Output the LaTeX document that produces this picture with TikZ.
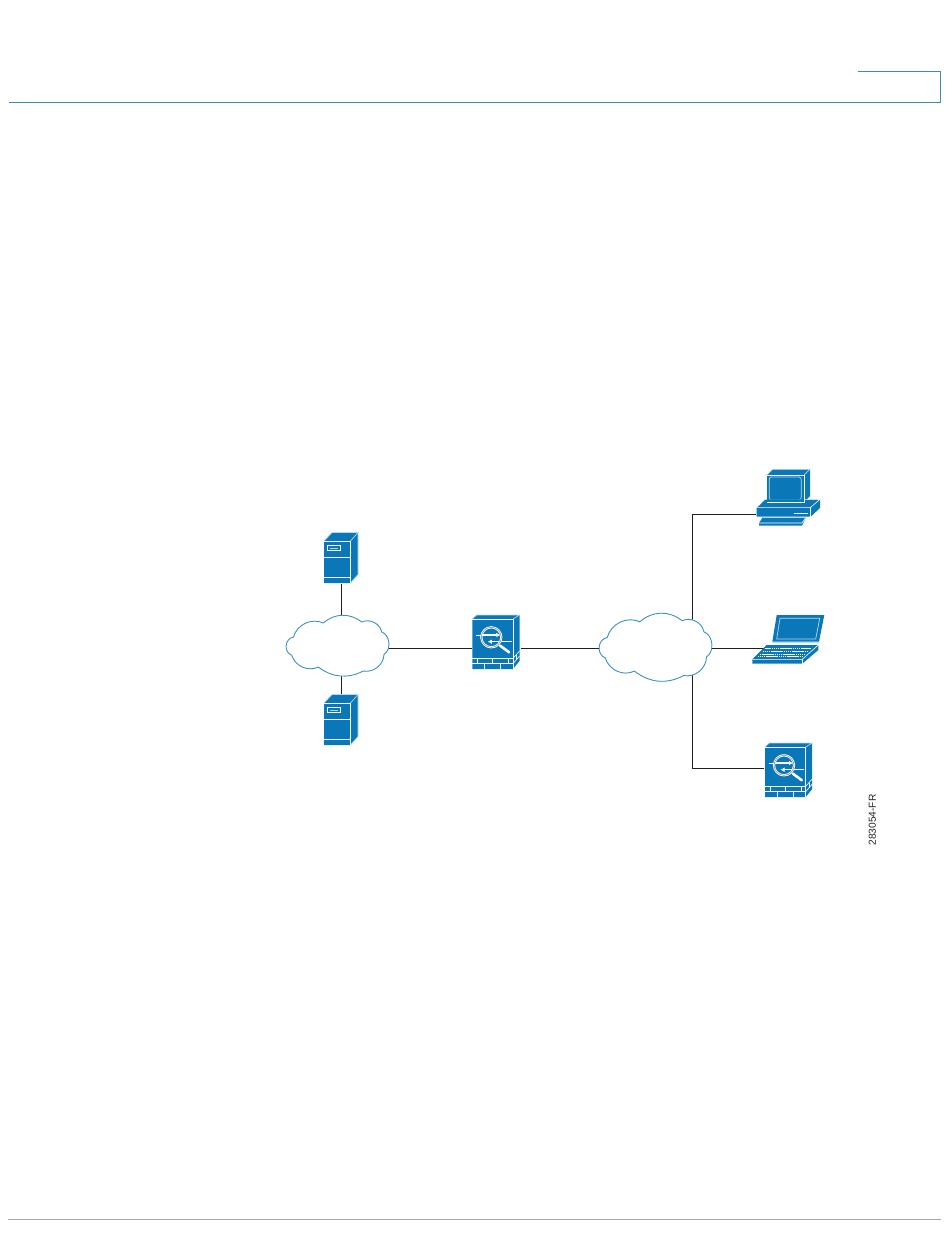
\documentclass[tikz,border=0pt]{standalone}
\usepackage{fontspec}
\setmainfont{Liberation Sans}
\usetikzlibrary{calc,positioning,arrows.meta}

\definecolor{iconblue}{HTML}{0A78B8}
\definecolor{iconpale}{HTML}{B5D8EC}
\definecolor{cloudline}{HTML}{3C90C4}
\definecolor{ruleteal}{HTML}{3F8FA8}
\definecolor{rulegrey}{HTML}{A8A8A8}

\tikzset{
    port/.style={inner sep=0pt, outer sep=0pt, minimum width=#1},
    wire/.style={line width=0.9pt, color=black!88},
    edge/.style={draw=white, line width=0.6pt},
    paleedge/.style={draw=iconpale, line width=0.7pt},
    server/.pic={
        \fill[iconblue] (0,0)--(8,-8.5)--(34,-8.5)--(34,33.5)--(26.5,42)--(0,42)-- cycle;
        \draw[paleedge] (0,0)--(8,-8.5)--(34,-8.5)--(26.5,0);
        \draw[paleedge] (34,-8.5)--(34,33.5)--(26.5,42);
        \draw[edge] (0,0)--(26.5,0)--(26.5,42);
        \draw[edge] (0,16.3)--(26.5,16.3);
        \draw[edge] (0,36.3)--(26.5,36.3);
        \draw[edge] (3.3,4.7) rectangle (16.7,9.7);
        \draw[paleedge, line width=0.5pt] (6,7.2)--(14,7.2);
    },
    firewall/.pic={
        \fill[iconblue] (0,0)--(4.3,-4)--(47.2,-4)--(47.2,42)--(40.7,50)--(0,50)-- cycle;
        \draw[paleedge] (0,0)--(4.3,-4)--(47.2,-4)--(40.7,0);
        \draw[edge] (0,0)--(40.7,0)--(40.7,50);
        \draw[edge] (40.7,39.3)--(47.2,32);
        \draw[edge] (0,39.3)--(40.7,39.3);
        \draw[edge] (0,44.7)--(40.7,44.7);
        \draw[edge] (40.7,44.7)--(47.2,37);
        \foreach \xb in {5.3,20,36}
            \draw[edge] (\xb,39.3)--(\xb,44.7);
        \foreach \xb in {12,28}
            \draw[edge] (\xb,44.7)--(\xb,50);
        \draw[edge] (44,36)--(44,41);
        \draw[edge] (3.7,16)--(11,16);
        \draw[edge] (31,22.7)--(39.4,22.7);
        \draw[white, line width=1.5pt, -{Latex[length=4pt,width=4.6pt]}] (11,16)--(28,16);
        \draw[white, line width=1.5pt, -{Latex[length=4pt,width=4.6pt]}] (31,22.7)--(15.5,22.7);
        \draw[white, line width=2.2pt] (19,18.3) circle (10);
        \draw[black!50, line width=0.5pt] (19,18.3) circle (10);
        \draw[white, line width=2.6pt, line cap=round] (27.8,26.6)--(36.8,33.3);
    },
    desktop/.pic={
        % monitor
        \fill[iconblue] (0,0)--(6,-5.7)--(43.3,-5.7)--(43.3,21)--(37.3,27)--(0,27)-- cycle;
        \draw[paleedge] (0,0)--(6,-5.7)--(43.3,-5.7)--(37.3,0);
        \draw[edge] (0,0)--(37.3,0)--(37.3,27)--(0,27)-- cycle;
        \draw[paleedge, rounded corners=2.5pt] (2.5,2) rectangle (34.5,25);
        % base
        \fill[iconblue] (-10,32.3)--(-1.7,24.3)--(53.3,24.3)--(53.3,33)--(44,41.7)--(-10,41.7)-- cycle;
        \draw[edge] (0,27)--(37.3,27)--(37.3,24.3);
        \draw[edge] (-10,32.3)--(-1.7,24.3)--(0,24.3);
        \draw[edge] (37.3,24.3)--(53.3,24.3)--(44,32.3)--(-10,32.3);
        \draw[edge] (44,32.3)--(44,41.7);
        \draw[edge] (27.3,38)--(41.3,38);
        % keyboard
        \fill[iconblue] (-7.7,48)--(-4,42.3)--(39.3,42.3)--(35.3,50.7)--(-7.7,50.7)-- cycle;
        \draw[edge] (-7.7,48)--(35.3,48)--(39.3,42.3);
        \draw[paleedge] (-4,42.3)--(39.3,42.3);
    },
    laptop/.pic={
        % screen
        \fill[iconblue] (5.6,26.7)--(10,0)--(57.6,0)--(52.3,26.7)-- cycle;
        \draw[paleedge] (13.3,3.3)--(53,3.3)--(49,24)--(10,24)-- cycle;
        \draw[paleedge] (5.6,27.5)--(52.3,27.5);
        % base
        \fill[iconblue] (-14.4,44.3)--(0,30)--(51.6,30)--(51.6,35)--(35.6,48.7)--(-14.4,48.7)-- cycle;
        \draw[edge] (-14.4,44.3)--(35.6,44.3)--(51.6,30);
        \draw[edge] (35.6,44.3)--(35.6,48.7);
        \foreach \yk in {33,36,39,41.5}
            \draw[white, line width=0.7pt, dash pattern=on 1.6pt off 0.5pt] ({-1.5+0.9*(33-\yk)},\yk)--({44+0.9*(33-\yk)},\yk);
    },
    netcloud/.pic={
        \draw[cloudline, fill=white, line width=0.9pt]
            (37.3,7) to[bend left=40] (75.7,6) to[bend left=52] (95.7,16)
            to[bend left=66] (98,38.3) to[bend left=50] (77.3,55)
            to[bend left=32] (32.3,51) to[bend left=50] (5.8,39.3)
            to[bend left=75, looseness=1.25] (7.5,21) to[bend left=50] (37.3,7);
    },
}

\begin{document}
\begin{tikzpicture}[x=1pt, y=-1pt]
    \useasboundingbox (0,0) rectangle (950,1260);

    % page rules
    \draw[ruleteal, line width=0.9pt] (857.7,71.3)--(940.3,71.3)--(940.3,102)--(9,102);
    \draw[rulegrey, line width=1.2pt] (8,1219.7)--(941,1219.7);

    % ports of the icons
    \node[port=34, minimum height=52] (srvA) at (341.7,558) {};
    \node[port=34, minimum height=50] (srvB) at (341.7,720) {};
    \node[port=103, minimum height=59] (cloudA) at (337.5,645.5) {};
    \node[port=48.4, minimum height=50] (fwA) at (496.5,648) {};
    \node[port=113, minimum height=66] (cloudB) at (655.5,647) {};
    \node[port=64, minimum height=50] (pcA) at (787.7,514.3) {};
    \node[port=64, minimum height=40] (lapA) at (797,648) {};
    \node[port=48, minimum height=50] (fwB) at (788,768.3) {};
    \coordinate (busB) at (692.3,648);

    % connectors, clouds go on top of them
    \draw[wire] (srvA.south)--(srvA.south |- cloudA.center);
    \draw[wire] (srvB.north)--(srvB.north |- cloudA.center);
    \draw[wire] (fwA.west)--(fwA.west -| cloudA.center);
    \draw[wire] (fwA.east)--(fwA.east -| cloudB.center);
    \draw[wire] (lapA.west)--(lapA.west -| cloudB.center);
    \draw[wire] (pcA.west)-|(busB);
    \draw[wire] (fwB.west)-|(busB);

    \pic[xscale=1, yscale=1] at (286,616) {netcloud};
    \pic[xscale=1.097, yscale=1.119] at (599,614) {netcloud};
    \pic at (324,541) {server};
    \pic at (324,703) {server};
    \pic at (472.3,619) {firewall};
    \pic at (765,747) {firewall};
    \pic at (766.7,475) {desktop};
    \pic at (766.7,615) {laptop};

    \node[font=\fontsize{10.2}{12}\selectfont, rotate=90, inner sep=0pt, text=black!85] (figId) at (872.3,820) {283054-FR};
\end{tikzpicture}
\end{document}
